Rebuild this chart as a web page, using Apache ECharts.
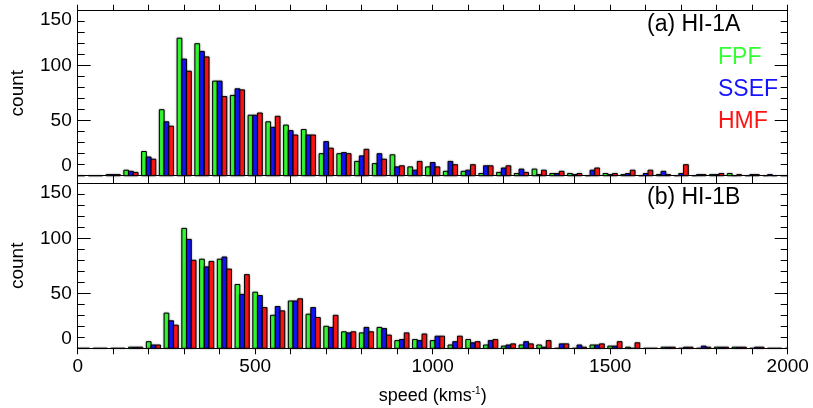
<!DOCTYPE html>
<html><head><meta charset="utf-8">
<script src="https://cdn.jsdelivr.net/npm/echarts@6/dist/echarts.min.js"></script>
<style>html,body{margin:0;padding:0;background:#fff}#c{width:813px;height:408px}</style>
</head><body><div id="c"></div>
<script>
// speed bins (km/s), bin width 50
const speedBins = [0,50,100,150,200,250,300,350,400,450,500,550,600,650,700,750,800,850,900,950,1000,1050,1100,1150,1200,1250,1300,1350,1400,1450,1500,1550,1600,1650,1700,1750,1800,1850,1900,1950,2000];
// (a) HI-1A counts
const fpfA  = [0,0,1,5,22,60,125,120,86,73,55,49,46,42,20,20,13,11,19,8,8,4,4,2,3,2,6,2,2,0,2,1,0,1,0,0,1,2,0,0,0];
const ssefA = [0,0,1,4,17,49,106,113,86,79,55,44,41,37,31,21,18,20,8,5,12,13,5,9,7,6,1,2,1,5,1,2,2,4,2,1,1,0,1,1,0];
const hmfA  = [0,0,1,3,15,45,95,108,72,78,57,54,37,37,25,20,24,15,9,13,8,10,10,9,9,3,5,4,2,7,2,5,5,1,10,1,2,1,1,0,0];
// (b) HI-1B counts
const fpfB  = [0,0,0,1,6,32,109,81,81,58,51,30,43,31,20,15,14,19,7,8,7,3,8,3,2,3,3,0,0,3,2,1,0,1,0,0,1,1,0,0,0];
const ssefB = [0,0,0,1,3,25,99,74,83,49,48,38,43,37,19,14,19,18,8,7,11,6,5,7,3,6,1,4,3,3,2,0,0,1,1,2,1,1,1,0,0];
const hmfB  = [0,0,0,1,3,21,80,79,72,67,37,34,45,28,30,15,15,12,14,13,11,11,6,8,4,4,7,4,1,4,6,5,0,1,1,1,1,1,1,0,0];
const seriesNames = ['FPF','SSEF','HMF'];
const seriesColors = ['#33ff33','#1414ff','#ff1414'];
const panelTitles = ['(a) HI-1A','(b) HI-1B'];

const FONT = '"Liberation Sans", Arial, Helvetica, sans-serif';
const BAR_W = 13.3;              // width of one bar in km/s units
const FIRST_SLOT = [-1.5, -0.5]; // group offset (in bar widths) per panel

function renderer(slot, first){
  return function(params, api){
    const x = api.value(0), v = api.value(1);
    const left = x + (first + slot) * BAR_W;
    const p0 = api.coord([left, v]);
    const p1 = api.coord([left + BAR_W, 0]);
    const cs = params.coordSys;
    const shape = echarts.graphic.clipRectByRect(
      {x: p0[0], y: p0[1], width: p1[0]-p0[0], height: p1[1]-p0[1]},
      {x: cs.x, y: cs.y, width: cs.width, height: cs.height + 1});
    if (!shape) return;
    return {type:'rect', shape: shape,
      style: {fill: api.visual('color'), stroke:'#000', lineWidth:1,
              shadowBlur:2, shadowColor:'rgba(0,0,0,0.35)'}};
  };
}

const grids = [
  {left:77.7, top:10.7, width:710, height:165},
  {left:77.7, top:183.3, width:710, height:165}
];
const xAxes = [], yAxes = [];
grids.forEach((g, gi) => {
  const showLab = gi === 1;
  [ 'bottom', 'top' ].forEach(pos => {
    const main = showLab && pos === 'bottom';
    xAxes.push({
      type:'value', gridIndex: gi, position: pos, min:0, max:2000, interval:500,
      axisLine:{show:true, onZero:false, lineStyle:{color:'#000', width:1}},
      axisTick:{show:true, inside:false, length:6, lineStyle:{color:'#000'}},
      minorTick:{show:true, splitNumber:5, length:6, lineStyle:{color:'#000'}},
      splitLine:{show:false},
      axisLabel:{show: main, color:'#000', fontSize:19, fontFamily:FONT, margin:9,
                 formatter: v => String(v)},
      name: main ? '{a|speed (kms}{s|-1}{a|)}' : '',
      nameLocation:'middle', nameGap:38,
      nameTextStyle:{fontSize:18, fontFamily:FONT, color:'#000', rich:{
        a:{fontSize:18, fontFamily:FONT, color:'#000'},
        s:{fontSize:10, fontFamily:FONT, color:'#000', verticalAlign:'top', padding:[0,0,10,0]}
      }}
    });
  });
  [ 'left', 'right' ].forEach(pos => {
    yAxes.push({
      type:'value', gridIndex: gi, position: pos, min:0, max:150, interval:50,
      axisLine:{show:true, onZero:false, lineStyle:{color:'#000', width:1}},
      axisTick:{show:true, inside:true, length:13, lineStyle:{color:'#000'}},
      minorTick:{show:true, splitNumber:5, length:7, lineStyle:{color:'#000'}},
      splitLine:{show:false},
      axisLabel:{show: pos === 'left', color:'#000', fontSize:19, fontFamily:FONT, margin:6,
                 verticalAlignMinLabel:'bottom', verticalAlignMaxLabel:'top'},
      name: pos === 'left' ? 'count' : '',
      nameLocation:'middle', nameRotate:90, nameGap:50,
      nameTextStyle:{fontSize:19, fontFamily:FONT, color:'#000'}
    });
  });
});

const panelData = [[fpfA, ssefA, hmfA], [fpfB, ssefB, hmfB]];
const series = [];
panelData.forEach((arrs, gi) => {
  arrs.forEach((arr, k) => {
    series.push({
      type:'custom', name: seriesNames[k], xAxisIndex: gi*2, yAxisIndex: gi*2,
      itemStyle:{color: seriesColors[k]},
      renderItem: renderer(k, FIRST_SLOT[gi]),
      encode:{x:0, y:1},
      data: speedBins.map((s, i) => [s, arr[i]])
    });
  });
});

const chart = echarts.init(document.getElementById('c'), null, {renderer:'canvas'});
chart.setOption({
  animation:false,
  backgroundColor:'#fff',
  grid: grids,
  xAxis: xAxes,
  yAxis: yAxes,
  legend:{
    orient:'vertical', left:713, top:42, padding:0, itemGap:0,
    itemWidth:0, itemHeight:32, selectedMode:false,
    itemStyle:{opacity:0},
    textStyle:{fontSize:23, fontFamily:FONT},
    data: seriesNames.map((n, k) => ({name:n, textStyle:{color: seriesColors[k]}}))
  },
  graphic:[
    {type:'text', left:647, top:13, style:{text: panelTitles[0], fontSize:23, fontFamily:FONT, fill:'#000'}},
    {type:'text', left:647, top:186, style:{text: panelTitles[1], fontSize:23, fontFamily:FONT, fill:'#000'}}
  ],
  series: series
});
</script>
</body></html>
